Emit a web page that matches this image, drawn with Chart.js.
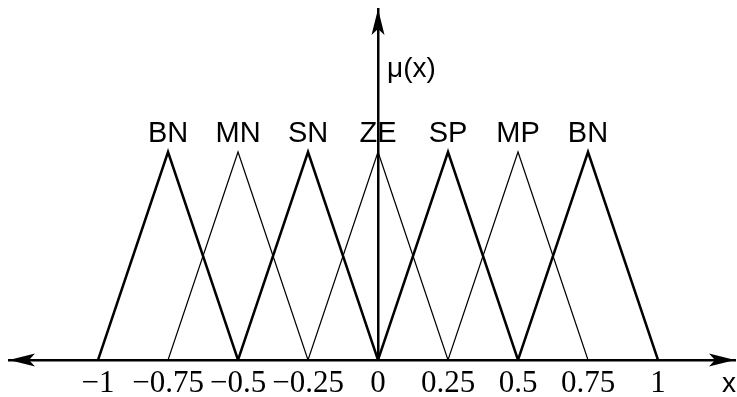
<!DOCTYPE html>
<html>
<head>
<meta charset="utf-8">
<script src="https://cdn.jsdelivr.net/npm/chart.js@4/dist/chart.umd.min.js"></script>
<style>
  html, body { margin: 0; padding: 0; background: #fff; }
  #wrap { width: 737px; height: 397px; }
</style>
</head>
<body>
<div id="wrap"><canvas id="fuzzyChart"></canvas></div>
<script>
// Fuzzy set names and their triangle feet (left, peak, right)
const setNames = ['BN', 'MN', 'SN', 'ZE', 'SP', 'MP', 'BN'];
const setFeet = [
    [-1, -0.75, -0.5],
    [-0.75, -0.5, -0.25],
    [-0.5, -0.25, 0],
    [-0.25, 0, 0.25],
    [0, 0.25, 0.5],
    [0.25, 0.5, 0.75],
    [0.5, 0.75, 1]
];
const memberships = [0, 1, 0];
const thickSets = [true, false, true, false, true, false, true];

// Tick labels on the x axis
const tickValues = [-1, -0.75, -0.5, -0.25, 0, 0.25, 0.5, 0.75, 1];
const tickLabels = ['\u22121', '\u22120.75', '\u22120.5', '\u22120.25', '0', '0.25', '0.5', '0.75', '1'];

const datasets = setFeet.map((feet, i) => ({
    label: setNames[i],
    data: feet.map((x, j) => ({ x: x, y: memberships[j] })),
    showLine: true,
    borderColor: '#000',
    borderWidth: thickSets[i] ? 2.5 : 1.2,
    borderJoinStyle: 'miter',
    pointRadius: 0,
    fill: false
}));

// draws arrowheads, set names and axis titles
const decorations = {
    id: 'decorations',
    afterDraw(chart) {
        const c = chart.ctx;
        const xs = chart.scales.x;
        const ys = chart.scales.y;
        const area = chart.chartArea;
        const x0 = xs.getPixelForValue(0);
        const y0 = ys.getPixelForValue(0);
        c.save();
        c.fillStyle = '#000';

        // left arrow
        c.beginPath();
        c.moveTo(area.left, y0);
        c.lineTo(area.left + 26, y0 - 6.5);
        c.lineTo(area.left + 20, y0);
        c.lineTo(area.left + 26, y0 + 6.5);
        c.closePath();
        c.fill();
        // right arrow
        c.beginPath();
        c.moveTo(area.right, y0);
        c.lineTo(area.right - 26, y0 - 6.5);
        c.lineTo(area.right - 20, y0);
        c.lineTo(area.right - 26, y0 + 6.5);
        c.closePath();
        c.fill();
        // up arrow
        c.beginPath();
        c.moveTo(x0, area.top);
        c.lineTo(x0 - 6.5, area.top + 26);
        c.lineTo(x0, area.top + 20);
        c.lineTo(x0 + 6.5, area.top + 26);
        c.closePath();
        c.fill();

        // set names above the peaks
        c.font = '29px "Liberation Sans", Arial, sans-serif';
        c.textAlign = 'center';
        c.textBaseline = 'alphabetic';
        setFeet.forEach((feet, i) => {
            c.fillText(setNames[i], xs.getPixelForValue(feet[1]), ys.getPixelForValue(1) - 10);
        });

        // axis titles
        c.textAlign = 'left';
        c.font = '28px "Liberation Sans", Arial, sans-serif';
        c.fillText('\u03bc(x)', x0 + 9, 77);
        c.fillText('x', area.right - 13, 392);
        c.restore();
    }
};

const ctx = document.getElementById('fuzzyChart').getContext('2d');

const config = {
    type: 'scatter',
    data: { datasets: datasets },
    options: {
        responsive: true,
        maintainAspectRatio: false,
        animation: false,
        layout: {
            padding: { left: 9, right: 2, top: 9, bottom: 37 }
        },
        scales: {
            x: {
                type: 'linear',
                position: { y: 0 },
                min: -1.318,
                max: 1.275,
                grid: { display: false, drawTicks: false },
                border: { display: true, color: '#000', width: 2.5 },
                afterBuildTicks: (scale) => {
                    scale.ticks = tickValues.map(v => ({ value: v }));
                },
                ticks: {
                    autoSkip: false,
                    maxRotation: 0,
                    padding: 5,
                    color: '#000',
                    font: { family: '"Liberation Serif", "Times New Roman", serif', size: 31 },
                    callback: (value) => tickLabels[tickValues.indexOf(value)]
                }
            },
            y: {
                type: 'linear',
                position: { x: 0 },
                min: 0,
                max: 1.6875,
                grid: { display: false, drawTicks: false },
                border: { display: true, color: '#000', width: 2.5 },
                ticks: { display: false }
            }
        },
        plugins: {
            legend: { display: false },
            tooltip: { enabled: false }
        }
    },
    plugins: [decorations]
};

const fuzzyChart = new Chart(ctx, config);
</script>
</body>
</html>
